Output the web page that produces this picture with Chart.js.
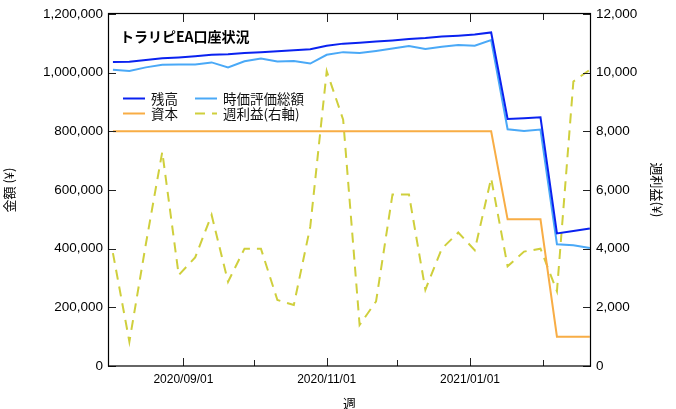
<!DOCTYPE html>
<html>
<head>
    <meta charset="utf-8">
    <title>トラリピEA口座状況</title>
    <script src="https://cdn.jsdelivr.net/npm/chart.js"></script>
    <style>
        body { margin: 0; background: #fff; }
    </style>
</head>
<body>
    <canvas id="myChart" width="676" height="409"></canvas>

    <script>
        // weekly data (Sunday of each week)
        var weeks = [
            '2020/08/02', '2020/08/09', '2020/08/16', '2020/08/23', '2020/08/30',
            '2020/09/06', '2020/09/13', '2020/09/20', '2020/09/27',
            '2020/10/04', '2020/10/11', '2020/10/18', '2020/10/25',
            '2020/11/01', '2020/11/08', '2020/11/15', '2020/11/22', '2020/11/29',
            '2020/12/06', '2020/12/13', '2020/12/20', '2020/12/27',
            '2021/01/03', '2021/01/10', '2021/01/17', '2021/01/24', '2021/01/31',
            '2021/02/07', '2021/02/14', '2021/02/21'
        ];
        var balance = [
            1036000, 1037000, 1043000, 1049000, 1052000, 1056000, 1061000, 1063000, 1067000, 1070000,
            1073000, 1076000, 1080000, 1092000, 1099000, 1102000, 1106000, 1110000, 1115000, 1118000,
            1123000, 1126000, 1130000, 1137000, 842000, 845000, 848000, 452000, 460000, 469000
        ];
        var marketValue = [
            1010000, 1006000, 1018000, 1027000, 1028000, 1028000, 1035000, 1018000, 1039000, 1048000,
            1038000, 1040000, 1031000, 1061000, 1070000, 1067000, 1074000, 1082000, 1091000, 1081000,
            1088000, 1094000, 1092000, 1111000, 807000, 801000, 806000, 415000, 412000, 402000
        ];
        var capital = [
            800000, 800000, 800000, 800000, 800000, 800000, 800000, 800000, 800000, 800000,
            800000, 800000, 800000, 800000, 800000, 800000, 800000, 800000, 800000, 800000,
            800000, 800000, 800000, 800000, 500000, 500000, 500000, 100000, 100000, 100000
        ];
        var weeklyProfit = [
            3850, 830, 4150, 7300, 3100, 3700, 5150, 2870, 4000, 4000,
            2250, 2080, 4750, 10050, 8400, 1400, 2200, 5850, 5850, 2600,
            4000, 4550, 3950, 6400, 3400, 3900, 4000, 2550, 9700, 10100
        ];
        var monthTicks = ['2020/09/01', '2020/10/01', '2020/11/01', '2020/12/01', '2021/01/01', '2021/02/01'];
        var labeledMonths = ['2020/09/01', '2020/11/01', '2021/01/01'];

        var tickFont = { family: '"Liberation Sans", Arial, sans-serif', size: 13.5 };
        var jpFont = '"Noto Sans CJK JP", sans-serif';

        function toDay(s) {
            var p = s.split('/');
            return Date.UTC(+p[0], +p[1] - 1, +p[2]) / 86400000;
        }
        function dayToStr(v) {
            var d = new Date(Math.round(v) * 86400000);
            var mm = ('0' + (d.getUTCMonth() + 1)).slice(-2);
            var dd = ('0' + d.getUTCDate()).slice(-2);
            return d.getUTCFullYear() + '/' + mm + '/' + dd;
        }
        function points(values) {
            return values.map(function (v, i) { return { x: toDay(weeks[i]), y: v }; });
        }

        // box frame, inward ticks, title and legend inside the plot
        var frame = {
            id: 'frame',
            afterDraw: function (chart) {
                var c = chart.ctx, a = chart.chartArea;
                var sx = chart.scales.x, sy = chart.scales.y;
                c.save();
                c.strokeStyle = '#222';
                c.lineWidth = 1;
                c.beginPath();
                sy.ticks.forEach(function (t) {
                    var py = Math.round(sy.getPixelForValue(t.value)) + 0.5;
                    c.moveTo(a.left, py); c.lineTo(a.left + 8, py);
                    c.moveTo(a.right, py); c.lineTo(a.right - 8, py);
                });
                sx.ticks.forEach(function (t) {
                    var len = labeledMonths.indexOf(dayToStr(t.value)) >= 0 ? 8 : 6;
                    var px = Math.round(sx.getPixelForValue(t.value)) + 0.5;
                    c.moveTo(px, a.bottom); c.lineTo(px, a.bottom - len);
                    c.moveTo(px, a.top); c.lineTo(px, a.top + len);
                });
                c.stroke();
                c.strokeStyle = '#000';
                c.lineWidth = 1.2;
                c.strokeRect(a.left + 0.5, a.top - 0.5, a.right - a.left - 1, a.bottom - a.top + 0.5);

                c.fillStyle = '#000';
                c.textBaseline = 'middle';
                c.font = 'bold 14px ' + jpFont;
                c.fillText('トラリピEA口座状況', 120, 37);

                var cols = [123, 195], rows = [98.5, 113.5];
                c.font = '13.5px ' + jpFont;
                chart.data.datasets.forEach(function (ds, i) {
                    var lx = cols[i % 2], ly = rows[Math.floor(i / 2)];
                    c.strokeStyle = ds.borderColor;
                    c.lineWidth = 2;
                    c.setLineDash(ds.borderDash || []);
                    c.beginPath();
                    c.moveTo(lx, ly); c.lineTo(lx + 22, ly);
                    c.stroke();
                    c.setLineDash([]);
                    c.fillStyle = '#111';
                    c.fillText(ds.label, lx + 28, ly);
                });
                c.restore();
            }
        };

        var ctx = document.getElementById('myChart').getContext('2d');
        var myChart = new Chart(ctx, {
            type: 'line',
            data: {
                datasets: [
                    { label: '残高', data: points(balance), borderColor: '#0a22f0', yAxisID: 'y' },
                    { label: '時価評価総額', data: points(marketValue), borderColor: '#4aa9f7', yAxisID: 'y' },
                    { label: '資本', data: points(capital), borderColor: '#f8ad45', yAxisID: 'y' },
                    { label: '週利益(右軸)', data: points(weeklyProfit), borderColor: '#cfcf3c', borderDash: [10, 7], yAxisID: 'y2' }
                ]
            },
            options: {
                responsive: false,
                animation: false,
                layout: { padding: { top: 14 } },
                elements: {
                    point: { radius: 0 },
                    line: { borderWidth: 2, tension: 0, fill: false }
                },
                plugins: {
                    legend: { display: false },
                    tooltip: { enabled: false }
                },
                scales: {
                    x: {
                        type: 'linear',
                        min: toDay('2020/08/02') - 2.1,
                        max: toDay('2021/02/21') + 0.5,
                        grid: { display: false, drawTicks: false },
                        border: { display: false },
                        afterBuildTicks: function (s) {
                            s.ticks = monthTicks.map(function (m) { return { value: toDay(m) }; });
                        },
                        ticks: {
                            autoSkip: false, maxRotation: 0, padding: 6, color: '#000',
                            font: { family: tickFont.family, size: 12 },
                            callback: function (v) {
                                var s = dayToStr(v);
                                return labeledMonths.indexOf(s) >= 0 ? s : '';
                            }
                        },
                        title: { display: true, text: '週', color: '#000', padding: 0, font: { family: jpFont, size: 13, lineHeight: 0.9 } },
                        afterFit: function (s) { s.height = 43; }
                    },
                    y: {
                        position: 'left',
                        min: 0, max: 1200000,
                        grid: { display: false, drawTicks: false },
                        border: { display: false },
                        ticks: {
                            stepSize: 200000, padding: 5, color: '#000', font: tickFont,
                            callback: function (v) { return v.toLocaleString('en-US'); }
                        },
                        title: { display: true, text: '金額 (¥)', color: '#000', padding: { top: 1, bottom: 0 }, font: { family: jpFont, size: 13 } },
                        afterFit: function (s) { s.width = 108; }
                    },
                    y2: {
                        position: 'right',
                        min: 0, max: 12000,
                        grid: { display: false, drawTicks: false },
                        border: { display: false },
                        ticks: {
                            stepSize: 2000, padding: 5, color: '#000', font: tickFont,
                            callback: function (v) { return v.toLocaleString('en-US'); }
                        },
                        title: { display: true, text: '週利益(¥)', color: '#000', padding: { top: 11, bottom: 0 }, font: { family: jpFont, size: 13 } },
                        afterFit: function (s) { s.width = 85; }
                    }
                }
            },
            plugins: [frame]
        });
    </script>
</body>
</html>
